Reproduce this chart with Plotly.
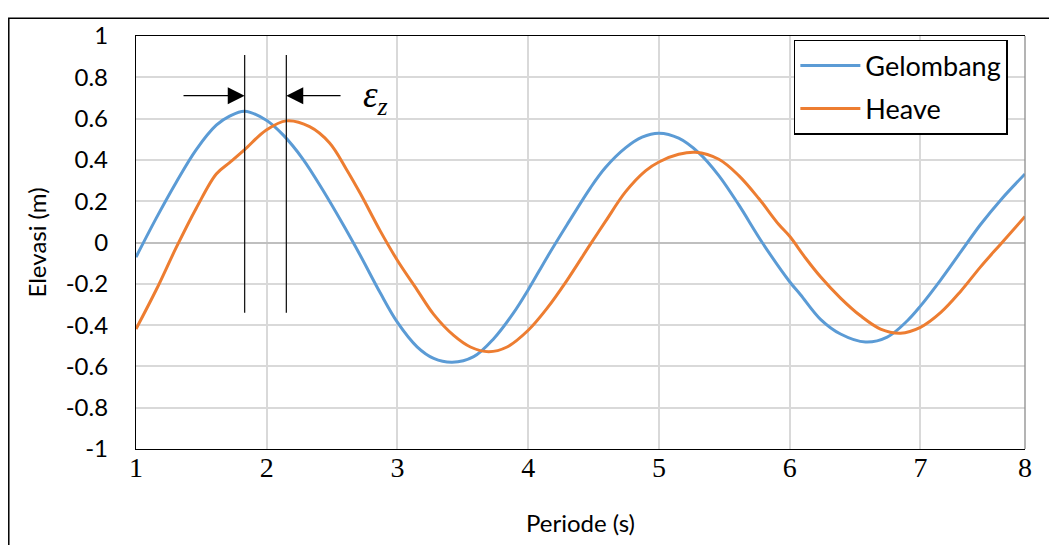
import plotly.graph_objects as go

# ---- data ----
periode_gelombang = [1.0, 1.155, 1.308, 1.461, 1.614, 1.716, 1.831, 1.997, 2.125, 2.278, 2.43, 2.584,
                     2.716, 2.869, 3.0, 3.15, 3.277, 3.418, 3.583, 3.736, 3.889, 4.0, 4.145, 4.298,
                     4.476, 4.591, 4.744, 4.871, 5.0, 5.151, 5.305, 5.458, 5.611, 5.79, 6.0, 6.083,
                     6.236, 6.389, 6.58, 6.746, 6.9, 7.0, 7.154, 7.307, 7.46, 7.613, 7.8]
elevasi_gelombang = [-0.071, 0.118, 0.292, 0.45, 0.568, 0.612, 0.636, 0.592, 0.521, 0.403, 0.253, 0.087,
                     -0.063, -0.245, -0.387, -0.505, -0.561, -0.58, -0.553, -0.466, -0.34, -0.229, -0.071, 0.087,
                     0.265, 0.363, 0.458, 0.51, 0.529, 0.505, 0.434, 0.324, 0.182, 0.0, -0.19, -0.253,
                     -0.372, -0.443, -0.482, -0.458, -0.379, -0.308, -0.182, -0.047, 0.087, 0.205, 0.332]

periode_heave = [1.0, 1.155, 1.308, 1.461, 1.614, 1.716, 1.831, 1.997, 2.15, 2.328, 2.481, 2.609,
                 2.716, 2.869, 3.0, 3.15, 3.277, 3.43, 3.558, 3.698, 3.838, 4.0, 4.145, 4.298,
                 4.476, 4.591, 4.744, 4.897, 5.0, 5.151, 5.28, 5.458, 5.611, 5.764, 5.917, 6.0,
                 6.121, 6.236, 6.389, 6.542, 6.695, 6.848, 7.0, 7.154, 7.307, 7.46, 7.613, 7.8]
elevasi_heave = [-0.419, -0.229, -0.024, 0.166, 0.332, 0.387, 0.45, 0.545, 0.589, 0.561, 0.482, 0.355,
                 0.237, 0.055, -0.087, -0.229, -0.348, -0.45, -0.506, -0.529, -0.506, -0.425, -0.318, -0.182,
                 -0.008, 0.102, 0.245, 0.347, 0.39, 0.427, 0.437, 0.403, 0.324, 0.213, 0.087, 0.03,
                 -0.075, -0.166, -0.269, -0.355, -0.419, -0.439, -0.411, -0.34, -0.237, -0.118, -0.008, 0.126]

x_tick_vals = [1, 2, 3, 4, 5, 6, 7, 7.8]
x_tick_text = ["1", "2", "3", "4", "5", "6", "7", "8"]
y_tick_vals = [1, 0.8, 0.6, 0.4, 0.2, 0, -0.2, -0.4, -0.6, -0.8, -1]
y_tick_text = ["1", "0.8", "0.6", "0.4", "0.2", "0", "-0.2", "-0.4", "-0.6", "-0.8", "-1"]

series_names = ["Gelombang", "Heave"]
series_colors = ["#5B9BD5", "#ED7D31"]

SANS = "Lato, 'Open Sans', sans-serif"
SERIF = "'Liberation Serif', 'Times New Roman', serif"

fig = go.Figure()
for i, (xs, ys) in enumerate([(periode_gelombang, elevasi_gelombang), (periode_heave, elevasi_heave)]):
    fig.add_trace(go.Scatter(
        x=xs, y=ys, mode="lines", name=series_names[i],
        line=dict(color=series_colors[i], width=3, shape="spline", smoothing=1.0),
        legendgroup=series_names[i],
    ))

# phase lag markers at each series' peak
peak_g = periode_gelombang[elevasi_gelombang.index(max(elevasi_gelombang))]
peak_h = periode_heave[elevasi_heave.index(max(elevasi_heave))]
LINE_TOP, LINE_BOTTOM, ARROW_Y = 0.908, -0.34, 0.711

shapes = []
for px in (peak_g, peak_h):
    shapes.append(dict(type="line", xref="x", yref="y", x0=px, x1=px, y0=LINE_BOTTOM, y1=LINE_TOP,
                       line=dict(color="#1a1a1a", width=1.3)))
# right plot edge (grey) and outer frame
shapes.append(dict(type="line", xref="paper", yref="paper", x0=1, x1=1, y0=0, y1=1,
                   line=dict(color="#8c8c8c", width=1.3)))
shapes.append(dict(type="rect", xref="paper", yref="paper", x0=-0.1431, x1=1.2, y0=-0.4, y1=1.0432,
                   line=dict(color="black", width=1.5), fillcolor="rgba(0,0,0,0)"))

annotations = [
    dict(x=peak_g, y=ARROW_Y, ax=1.352, ay=ARROW_Y, xref="x", yref="y", axref="x", ayref="y",
         showarrow=True, arrowhead=2, arrowsize=2.6, arrowwidth=1.3, arrowcolor="black", standoff=0, text=""),
    dict(x=peak_h, y=ARROW_Y, ax=2.576, ay=ARROW_Y, xref="x", yref="y", axref="x", ayref="y",
         showarrow=True, arrowhead=2, arrowsize=2.6, arrowwidth=1.3, arrowcolor="black", standoff=0, text=""),
    dict(x=2.83, y=0.70, xref="x", yref="y", showarrow=False,
         text="<i>ε</i><sub><i>z</i></sub>", font=dict(family=SERIF, size=37, color="black")),
]

# page body has an 8px margin: compensate so the plot area lands where the reference has it
fig.update_layout(
    width=1049, height=537,
    margin=dict(l=128, r=32, t=19, b=96),
    paper_bgcolor="white", plot_bgcolor="white",
    font=dict(family=SANS, color="black"),
    shapes=shapes, annotations=annotations,
    showlegend=True,
    legend=dict(x=0.740, y=0.9905, xanchor="left", yanchor="top",
                bgcolor="white", bordercolor="black", borderwidth=1.5,
                font=dict(family=SANS, size=27, color="black"),
                tracegroupgap=5, itemwidth=60),
    xaxis=dict(range=[1, 7.8], tickvals=x_tick_vals, ticktext=x_tick_text,
               tickfont=dict(family=SERIF, size=28, color="black"),
               showgrid=True, gridcolor="#d9d9d9", gridwidth=1.5,
               showline=True, linecolor="black", linewidth=1.3, mirror=True,
               zeroline=False, ticks="", ticklabelstandoff=-7,
               title=dict(text="Periode (s)", font=dict(family=SANS, size=24, color="black"), standoff=33)),
    yaxis=dict(range=[-1, 1], tickvals=y_tick_vals, ticktext=y_tick_text,
               tickfont=dict(family=SANS, size=24, color="black"),
               showgrid=True, gridcolor="#d9d9d9", gridwidth=1.5,
               zeroline=True, zerolinecolor="#bfbfbf", zerolinewidth=1.5,
               showline=True, linecolor="black", linewidth=1.3,
               ticks="", ticklabelstandoff=22,
               title=dict(text="Elevasi (m)", font=dict(family=SANS, size=24, color="black"), standoff=12)),
)

fig.write_html("out.html")
